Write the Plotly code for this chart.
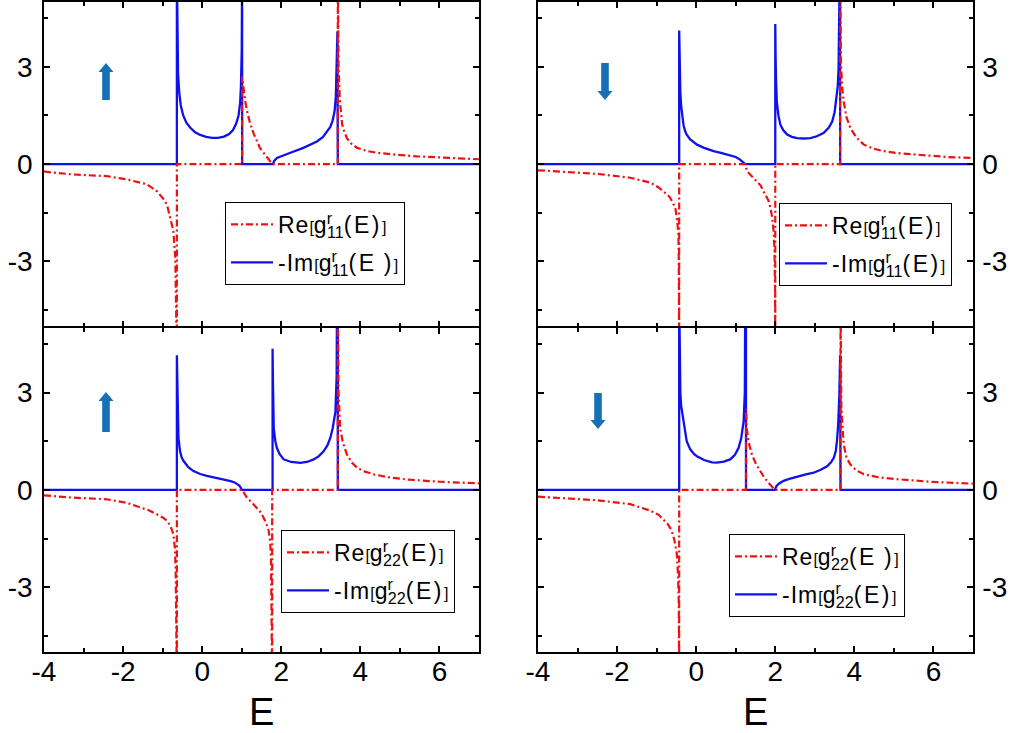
import plotly.graph_objects as go

W, H = 1010, 733

# ---------------- data ----------------
# Panel A: top-left, g11, spin up
E_im_A = [-4, -0.64, -0.64, -0.63, -0.61, -0.58, -0.54, -0.48, -0.40, -0.30, -0.18, -0.05, 0.10, 0.25, 0.40,
          0.55, 0.68, 0.78, 0.86, 0.92, 0.96, 0.98, 1.00, 1.01, 1.01,
          1.79, 1.82, 1.89, 2.00, 2.23, 2.56, 2.75, 2.90, 3.05, 3.16, 3.24, 3.30, 3.35, 3.38, 3.40, 3.42, 3.43, 7]
V_im_A = [0, 0, 6, 4.0, 2.8, 2.2, 1.8, 1.5, 1.28, 1.12, 0.98, 0.90, 0.84, 0.81, 0.81,
          0.85, 0.93, 1.05, 1.25, 1.5, 1.9, 2.4, 3.5, 6, 0,
          0, 0.10, 0.19, 0.25, 0.35, 0.50, 0.60, 0.70, 0.83, 1.00, 1.15, 1.35, 1.65, 2.1, 2.8, 4.1, 0, 0]
E_re_A = [-4, -3.93, -3.26, -2.41, -1.91, -1.40, -1.15, -0.94, -0.87, -0.81, -0.73, -0.68, -0.65, -0.64, -0.64,
          1.01, 1.01, 1.05, 1.09, 1.15, 1.22, 1.30, 1.38, 1.46, 1.55, 1.64, 1.72, 1.79,
          3.43, 3.43, 3.45, 3.48, 3.54, 3.60, 3.66, 3.78, 3.92, 4.15, 4.42, 4.90, 5.43, 6.28, 7]
V_re_A = [-0.22, -0.24, -0.32, -0.37, -0.47, -0.62, -0.83, -1.13, -1.35, -1.64, -2.05, -2.87, -4.5, -6, 0,
          0, 2.7, 2.3, 1.93, 1.55, 1.22, 0.95, 0.70, 0.50, 0.35, 0.20, 0.09, 0,
          0, 6, 3.0, 2.0, 1.22, 0.98, 0.80, 0.62, 0.50, 0.41, 0.35, 0.29, 0.24, 0.19, 0.15]

# Panel B: top-right, g11, spin down
E_im_B = [-4, -0.43, -0.43, -0.42, -0.40, -0.38, -0.36, -0.32, -0.28, -0.24, -0.15, -0.05, 0.02, 0.20, 0.44,
          0.65, 0.86, 1.00, 1.11, 1.18, 1.24,
          2.00, 2.00, 2.01, 2.02, 2.04, 2.08, 2.13, 2.20, 2.30, 2.42, 2.55, 2.72, 2.89, 3.05, 3.22, 3.35, 3.44,
          3.50, 3.54, 3.58, 3.60, 3.62, 3.63, 3.64, 3.64, 7]
V_im_B = [0, 0, 4.12, 3.0, 2.2, 1.8, 1.52, 1.2, 1.02, 0.91, 0.76, 0.66, 0.60, 0.50, 0.40,
          0.34, 0.28, 0.22, 0.14, 0.07, 0,
          0, 4.32, 3.2, 2.6, 1.93, 1.5, 1.21, 1.05, 0.91, 0.84, 0.80, 0.79, 0.80, 0.86, 0.96, 1.12, 1.31,
          1.6, 1.93, 2.4, 2.94, 4.0, 6, 6, 0, 0]
E_re_B = [-4, -3.36, -2.51, -1.67, -1.16, -0.95, -0.83, -0.72, -0.66, -0.58, -0.53, -0.49, -0.45, -0.44,
          -0.43, -0.43,
          1.24, 1.28, 1.40, 1.54, 1.63, 1.70, 1.77, 1.83, 1.88, 1.92, 1.96, 1.98, 1.995, 2.00, 2.00,
          3.64, 3.64, 3.66, 3.69, 3.73, 3.80, 3.90, 4.05, 4.24, 4.48, 4.74, 5.10, 5.50, 6.35, 7]
V_re_B = [-0.19, -0.23, -0.30, -0.42, -0.57, -0.72, -0.83, -0.95, -1.03, -1.2, -1.34, -1.64, -2.14, -3.0,
          -6, 0,
          0, -0.21, -0.36, -0.52, -0.66, -0.83, -0.98, -1.13, -1.35, -1.64, -2.1, -2.66, -4.0, -6, 0,
          0, 6, 3.2, 2.4, 1.93, 1.45, 1.11, 0.82, 0.60, 0.48, 0.40, 0.34, 0.30, 0.22, 0.19]

# Panel C: bottom-left, g22, spin up
E_im_C = [-4, -0.64, -0.64, -0.63, -0.62, -0.60, -0.56, -0.52, -0.47, -0.35, -0.22, -0.05, 0.12, 0.33, 0.54,
          0.72, 0.82, 0.88, 0.94, 0.97, 1.01,
          1.78, 1.78, 1.79, 1.80, 1.81, 1.85, 1.89, 1.96, 2.06, 2.25, 2.48, 2.65, 2.82, 2.95, 3.07, 3.17, 3.24,
          3.30, 3.34, 3.37, 3.40, 3.41, 3.43, 3.43, 7]
V_im_C = [0, 0, 4.15, 3.2, 2.5, 1.60, 1.2, 1.0, 0.89, 0.70, 0.58, 0.49, 0.43, 0.38, 0.33,
          0.27, 0.23, 0.19, 0.13, 0.08, 0,
          0, 4.35, 3.3, 2.6, 1.9, 1.5, 1.29, 1.1, 0.94, 0.86, 0.83, 0.86, 0.94, 1.04, 1.19, 1.38, 1.6,
          1.9, 2.15, 2.42, 3.5, 6, 6, 0, 0]
E_re_C = [-4, -3.26, -2.41, -1.90, -1.57, -1.35, -1.15, -1.00, -0.89, -0.80, -0.73, -0.69, -0.67, -0.65,
          -0.64, -0.64,
          1.01, 1.07, 1.13, 1.25, 1.38, 1.47, 1.55, 1.62, 1.68, 1.72, 1.74, 1.76, 1.77, 1.77,
          3.43, 3.43, 3.45, 3.49, 3.56, 3.66, 3.78, 3.92, 4.10, 4.34, 4.70, 5.18, 6.03, 7]
V_re_C = [-0.17, -0.24, -0.29, -0.40, -0.54, -0.63, -0.75, -0.85, -0.95, -1.12, -1.36, -1.8, -2.5, -4.0,
          -6, 0,
          0, -0.12, -0.24, -0.38, -0.54, -0.68, -0.85, -1.03, -1.25, -1.6, -2.17, -3.5, -6, 0,
          0, 6, 3.0, 1.9, 1.45, 1.09, 0.85, 0.68, 0.57, 0.48, 0.39, 0.32, 0.25, 0.20]

# Panel D: bottom-right, g22, spin down
E_im_D = [-4, -0.43, -0.43, -0.42, -0.40, -0.38, -0.36, -0.30, -0.24, -0.15, -0.05, 0.02, 0.20, 0.40, 0.52,
          0.70, 0.86, 0.98, 1.07, 1.14, 1.20, 1.23, 1.24, 1.26, 1.26,
          1.99, 2.03, 2.10, 2.21, 2.38, 2.55, 2.75, 2.97, 3.15, 3.31, 3.41, 3.48, 3.53, 3.56, 3.59, 3.62,
          3.64, 3.65, 7]
V_im_D = [0, 0, 6, 4.0, 3.0, 2.6, 2.42, 1.9, 1.50, 1.25, 1.10, 1.04, 0.92, 0.85, 0.84,
          0.87, 0.94, 1.08, 1.29, 1.6, 2.11, 3.0, 6, 6, 0,
          0, 0.12, 0.20, 0.28, 0.35, 0.41, 0.47, 0.53, 0.62, 0.73, 0.85, 0.99, 1.2, 1.5, 2.0, 2.93,
          4.15, 0, 0]
E_re_D = [-4, -3.36, -2.51, -1.67, -1.16, -0.95, -0.83, -0.72, -0.62, -0.55, -0.49, -0.46, -0.44, -0.43,
          -0.43,
          1.26, 1.26, 1.28, 1.32, 1.41, 1.51, 1.62, 1.72, 1.83, 1.92, 1.99,
          3.65, 3.65, 3.67, 3.70, 3.73, 3.80, 3.90, 4.05, 4.24, 4.60, 5.08, 5.92, 7]
V_re_D = [-0.21, -0.25, -0.32, -0.44, -0.64, -0.77, -0.90, -1.05, -1.25, -1.55, -1.97, -2.6, -3.5, -6,
          0,
          0, 2.5, 1.9, 1.5, 1.09, 0.80, 0.58, 0.38, 0.22, 0.09, 0,
          0, 6, 2.6, 1.8, 1.40, 1.0, 0.78, 0.60, 0.48, 0.39, 0.33, 0.25, 0.19]

x_tickvals = [-4, -2, 0, 2, 4, 6]
x_ticktext = ["-4", "-2", "0", "2", "4", "6"]
y_tickvals = [-3, 0, 3]
y_ticktext = ["-3", "0", "3"]

# ---------------- helpers ----------------
FONT = "Arial, Liberation Sans, sans-serif"
RED = "#ee1111"
BLUE = "#1010ee"
ARROW = "#1670b5"


def px(x):
    return x / W


def py(y):
    return 1 - y / H


def label(kind, idx, gap):
    sp = "\u2009" if gap else ""
    small_l = "<span style='font-size:16px'>[</span>"
    small_r = "<span style='font-size:16px'>]</span>"
    r_stack = "<sup><span style='letter-spacing:-5px'>r</span></sup>"
    head = f"<span style='letter-spacing:1px'>{kind}</span>"
    tail = f"<span style='letter-spacing:2.5px'>(E{sp})</span>"
    return f"{head}{small_l}g{r_stack}<sub>{idx}</sub>{tail}{small_r}"


panels = [
    # (E_re, V_re, E_im, V_im, index, xaxis, yaxis, legend, re_gap, im_gap)
    (E_re_A, V_re_A, E_im_A, V_im_A, "11", "x", "y", "legend", False, True),
    (E_re_B, V_re_B, E_im_B, V_im_B, "11", "x2", "y2", "legend2", False, False),
    (E_re_C, V_re_C, E_im_C, V_im_C, "22", "x3", "y3", "legend3", False, False),
    (E_re_D, V_re_D, E_im_D, V_im_D, "22", "x4", "y4", "legend4", True, False),
]

fig = go.Figure()
for k, (E_re, V_re, E_im, V_im, idx, xa, ya, lg, rg, ig) in enumerate(panels):
    fig.add_trace(go.Scatter(x=E_im, y=V_im, mode="lines", xaxis=xa, yaxis=ya, legend=lg,
                             legendgroup=f"im{k}", legendrank=2, name=label("-Im", idx, ig),
                             line=dict(color=BLUE, width=2.3)))
    fig.add_trace(go.Scatter(x=E_re, y=V_re, mode="lines", xaxis=xa, yaxis=ya, legend=lg,
                             legendgroup=f"re{k}", legendrank=1, name=label("Re", idx, rg),
                             line=dict(color=RED, width=2.2, dash="7px,3px,2px,3px")))

# domains (pixel-measured); the shared border between rows is overlapped exactly
xL = [px(44), px(479)]
xR = [px(538), px(973)]
yT = [py(326.25), py(2)]
yB = [py(652), py(327.75)]

common_x = dict(range=[-4, 7], showgrid=False, zeroline=False, showline=True, linecolor="black",
                linewidth=1.5, mirror="ticks", ticks="inside", ticklen=6, tickwidth=1.5, tickcolor="black",
                tickvals=x_tickvals, ticktext=x_ticktext,
                minor=dict(ticks="inside", ticklen=4, tickwidth=1.5, tickcolor="black", dtick=1, tick0=-4),
                tickfont=dict(family=FONT, size=28, color="black"), automargin=False)
common_y = dict(range=[-5, 5], showgrid=False, zeroline=False, showline=True, linecolor="black",
                linewidth=1.5, mirror="ticks", ticks="inside", ticklen=6, tickwidth=1.5, tickcolor="black",
                tickvals=y_tickvals, ticktext=y_ticktext,
                minor=dict(ticks="inside", ticklen=4, tickwidth=1.5, tickcolor="black", dtick=1.5, tick0=0),
                tickfont=dict(family=FONT, size=28, color="black"), automargin=False)

fig.update_layout(
    xaxis=dict(common_x, domain=xL, anchor="y", showticklabels=False),
    yaxis=dict(common_y, domain=yT, anchor="x", side="left", ticklabelstandoff=4),
    xaxis2=dict(common_x, domain=xR, anchor="y2", showticklabels=False),
    yaxis2=dict(common_y, domain=yT, anchor="x2", side="right", ticklabelstandoff=2),
    xaxis3=dict(common_x, domain=xL, anchor="y3", showticklabels=True, ticklabelstandoff=-6),
    yaxis3=dict(common_y, domain=yB, anchor="x3", side="left", ticklabelstandoff=4),
    xaxis4=dict(common_x, domain=xR, anchor="y4", showticklabels=True, ticklabelstandoff=-6),
    yaxis4=dict(common_y, domain=yB, anchor="x4", side="right", ticklabelstandoff=2),
)

leg_common = dict(bgcolor="white", bordercolor="black", borderwidth=1, xanchor="left", yanchor="top",
                  font=dict(family=FONT, size=23, color="black"), traceorder="grouped",
                  tracegroupgap=5, itemwidth=42, itemclick=False, itemdoubleclick=False)
fig.update_layout(
    showlegend=True,
    legend=dict(leg_common, x=px(225), y=py(202)),
    legend2=dict(leg_common, x=px(779), y=py(203)),
    legend3=dict(leg_common, x=px(281), y=py(530)),
    legend4=dict(leg_common, x=px(729), y=py(534)),
)

# axis titles "E"
for cx in (261.5, 755.5):
    fig.add_annotation(text="E", xref="paper", yref="paper", x=px(cx), y=py(712),
                       xanchor="center", yanchor="middle", showarrow=False,
                       font=dict(family=FONT, size=38, color="black"))


# spin arrows
def arrow_path(cx, tip, tail):
    s, hw, hl = 3.8, 7.5, 9
    d = 1 if tail > tip else -1
    base = tip + d * hl
    pts = [(cx - s, tail), (cx - s, base), (cx - hw, base), (cx, tip),
           (cx + hw, base), (cx + s, base), (cx + s, tail)]
    return "M " + " L ".join(f"{px(x):.5f},{py(y):.5f}" for x, y in pts) + " Z"


for cx, tip, tail in [(106, 63, 100), (106, 392, 432), (605, 100, 63), (598, 429, 393)]:
    fig.add_shape(type="path", path=arrow_path(cx, tip, tail), xref="paper", yref="paper",
                  fillcolor=ARROW, line=dict(width=0))

fig.update_layout(width=W, height=H, margin=dict(l=0, r=0, t=0, b=0),
                  paper_bgcolor="white", plot_bgcolor="white",
                  font=dict(family=FONT, color="black"))

fig.write_html("out.html", config={"displayModeBar": False},
               post_script="document.body.style.margin='0';")
